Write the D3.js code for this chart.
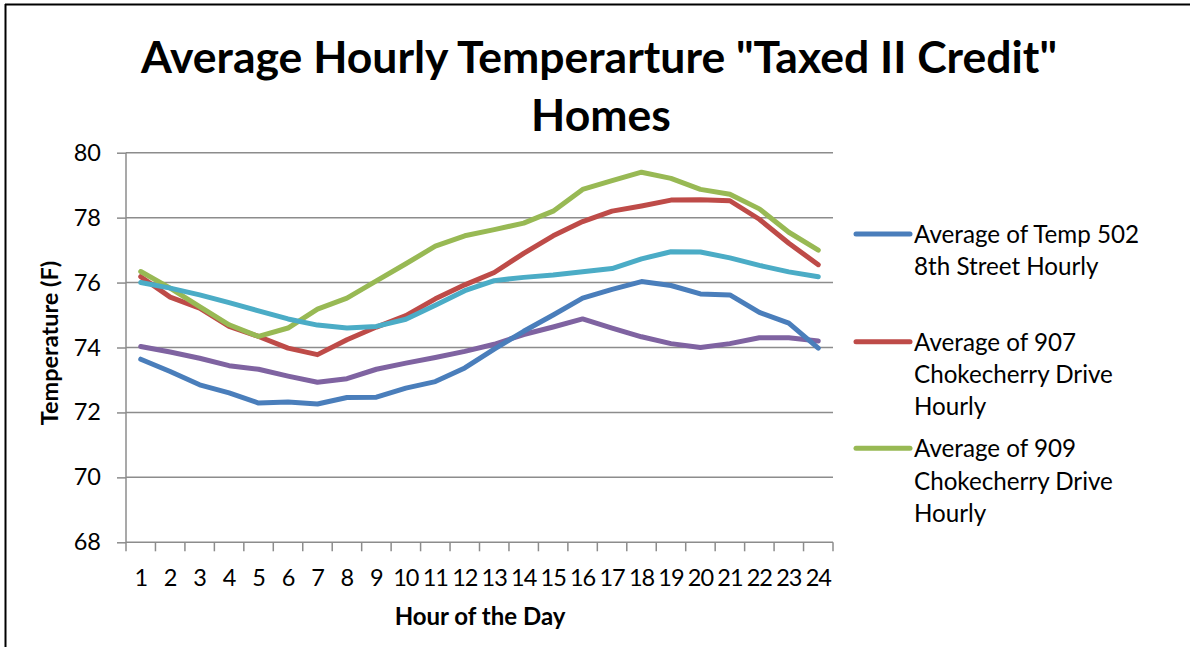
<!DOCTYPE html>
<html>
<head>
<meta charset="utf-8">
<script src="https://cdn.jsdelivr.net/npm/d3@7"></script>
<style>
  body { margin: 0; background: #fff; }
  svg { display: block; font-family: Lato, "Open Sans", sans-serif; }
</style>
</head>
<body>
<svg id="chart" width="1190" height="647"></svg>
<script>
// hours on the x axis
var hours = d3.range(1, 25);
var yTicks = [68, 70, 72, 74, 76, 78, 80];

// series values (deg F)
var temp502 = [73.64, 73.26, 72.85, 72.6, 72.29, 72.32, 72.26, 72.46, 72.47, 72.75, 72.95, 73.37,
  73.95, 74.5, 75.0, 75.52, 75.79, 76.03, 75.91, 75.65, 75.62, 75.08, 74.75, 73.98];
var temp907 = [76.18, 75.55, 75.21, 74.65, 74.34, 73.98, 73.78, 74.24, 74.63, 74.98, 75.5, 75.93,
  76.31, 76.9, 77.44, 77.88, 78.2, 78.36, 78.54, 78.55, 78.52, 77.95, 77.21, 76.55];
var temp909 = [76.34, 75.83, 75.26, 74.7, 74.34, 74.6, 75.18, 75.52, 76.05, 76.58, 77.12, 77.44,
  77.63, 77.83, 78.2, 78.87, 79.14, 79.4, 79.21, 78.87, 78.72, 78.27, 77.55, 77.0];
var tempCyan = [76.0, 75.83, 75.62, 75.38, 75.13, 74.88, 74.69, 74.6, 74.65, 74.87, 75.3, 75.75,
  76.06, 76.16, 76.23, 76.33, 76.43, 76.73, 76.95, 76.94, 76.76, 76.53, 76.33, 76.18];
var tempPurple = [74.03, 73.86, 73.67, 73.44, 73.33, 73.12, 72.93, 73.04, 73.33, 73.52, 73.69, 73.88,
  74.1, 74.4, 74.63, 74.88, 74.6, 74.33, 74.12, 74.0, 74.12, 74.3, 74.3, 74.2];

var seriesColors = ["#4a7ebb", "#be4b48", "#98b954", "#4bacc6", "#7f63a1"];
var seriesData = [temp502, temp907, temp909, tempCyan, tempPurple];

// legend text, wrapped like the original (only three entries fit)
var legendLines = [
  ["Average of Temp 502", "8th Street Hourly"],
  ["Average of 907", "Chokecherry Drive", "Hourly"],
  ["Average of 909", "Chokecherry Drive", "Hourly"]
];

var svg = d3.select('#chart');
var plot = {left: 126, right: 833, top: 152.7, bottom: 542.3};

var x = d3.scaleBand().domain(hours).range([plot.left, plot.right]);
var y = d3.scaleLinear().domain([68, 80]).range([plot.bottom, plot.top]);

// frame (top and left edges only show in the original)
svg.append('line').attr('x1', 5).attr('x2', 1190).attr('y1', 4.5).attr('y2', 4.5)
  .attr('stroke', '#000').attr('stroke-width', 2);
svg.append('line').attr('x1', 5.5).attr('x2', 5.5).attr('y1', 4).attr('y2', 647)
  .attr('stroke', '#000').attr('stroke-width', 2);

// title
var title = svg.append('text').attr('text-anchor', 'middle')
  .attr('font-weight', 'bold').attr('font-size', 44.5).attr('fill', '#000');
title.append('tspan').attr('x', 599).attr('y', 73).text('Average Hourly Temperarture "Taxed II Credit"');
title.append('tspan').attr('x', 601).attr('y', 131).text('Homes');

// gridlines
svg.append('g').selectAll('line').data(yTicks.slice(1)).enter().append('line')
  .attr('x1', plot.left).attr('x2', plot.right)
  .attr('y1', function (d) { return y(d); }).attr('y2', function (d) { return y(d); })
  .attr('stroke', '#8c8c8c').attr('stroke-width', 1.5);

// y axis
var yAxis = svg.append('g').attr('transform', 'translate(' + plot.left + ',0)')
  .call(d3.axisLeft(y).tickValues(yTicks).tickSize(9).tickPadding(16));
yAxis.select('.domain').attr('stroke', '#8c8c8c').attr('stroke-width', 1.5).attr('d', 'M0,' + plot.top + 'V' + plot.bottom);
yAxis.selectAll('.tick line').attr('stroke', '#8c8c8c').attr('stroke-width', 1.5);
yAxis.selectAll('.tick text').attr('font-size', 23.5).attr('fill', '#000').attr('font-family', 'Lato, sans-serif');

// x axis, ticks between categories
var xAxis = svg.append('g').attr('transform', 'translate(0,' + plot.bottom + ')');
xAxis.append('line').attr('x1', plot.left).attr('x2', plot.right)
  .attr('stroke', '#8c8c8c').attr('stroke-width', 1.5);
xAxis.selectAll('.xtick').data(d3.range(25)).enter().append('line')
  .attr('class', 'xtick')
  .attr('x1', function (i) { return plot.left + i * x.step(); })
  .attr('x2', function (i) { return plot.left + i * x.step(); })
  .attr('y1', 0).attr('y2', 9)
  .attr('stroke', '#8c8c8c').attr('stroke-width', 1.5);
xAxis.selectAll('.xlab').data(hours).enter().append('text')
  .attr('class', 'xlab')
  .attr('x', function (d) { return x(d) + x.bandwidth() / 2; })
  .attr('y', 44).attr('text-anchor', 'middle').attr('font-size', 23.5)
  .attr('letter-spacing', -1)
  .text(function (d) { return d; });

// axis titles
svg.append('text').attr('x', 480).attr('y', 625).attr('text-anchor', 'middle')
  .attr('font-weight', 'bold').attr('font-size', 24).text('Hour of the Day');
svg.append('text').attr('transform', 'translate(58,343) rotate(-90)').attr('text-anchor', 'middle')
  .attr('font-weight', 'bold').attr('font-size', 23.5).text('Temperature (F)');

// lines
var line = d3.line()
  .x(function (d, i) { return x(hours[i]) + x.bandwidth() / 2; })
  .y(function (d) { return y(d); });

// draw order: purple first so others sit above, as in the original
var drawOrder = [4, 0, 1, 2, 3];
svg.append('g').selectAll('path').data(drawOrder).enter().append('path')
  .attr('d', function (k) { return line(seriesData[k]); })
  .attr('fill', 'none')
  .attr('stroke', function (k) { return seriesColors[k]; })
  .attr('stroke-width', 5)
  .attr('stroke-linejoin', 'round')
  .attr('stroke-linecap', 'round');

// legend
var legendY = [234, 341.7, 448.3];
var legend = svg.append('g');
legendLines.forEach(function (lines, k) {
  legend.append('line').attr('x1', 856).attr('x2', 910)
    .attr('y1', legendY[k]).attr('y2', legendY[k])
    .attr('stroke', seriesColors[k]).attr('stroke-width', 5).attr('stroke-linecap', 'round');
  var t = legend.append('text').attr('font-size', 24.2).attr('fill', '#000');
  lines.forEach(function (s, j) {
    t.append('tspan').attr('x', 914).attr('y', legendY[k] + 9 + j * 32.3).text(s);
  });
});
</script>
</body>
</html>
